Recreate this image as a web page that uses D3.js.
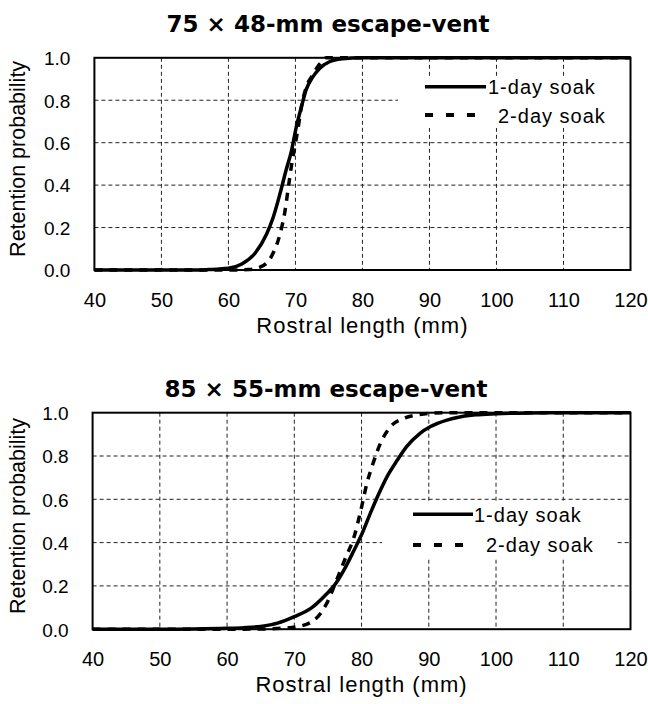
<!DOCTYPE html>
<html>
<head>
<meta charset="utf-8">
<script src="https://cdn.jsdelivr.net/npm/d3@7"></script>
<style>
  html, body { margin: 0; padding: 0; background: #fff; }
  svg { display: block; }
  text { font-family: "Liberation Sans", Arial, sans-serif; fill: #000; }
</style>
</head>
<body>
<svg id="chart" width="648" height="704"></svg>
<script>
// ---------- data ----------
const xTicks = [40, 50, 60, 70, 80, 90, 100, 110, 120];
const yTicks = [0.0, 0.2, 0.4, 0.6, 0.8, 1.0];
const seriesNames = ["1-day soak", "2-day soak"];
const panelTitles = ["75 \u00d7 48-mm escape-vent", "85 \u00d7 55-mm escape-vent"];
const xAxisTitle = "Rostral length (mm)";
const yAxisTitle = "Retention probability";

// 75x48 vent, 1-day soak
const lenA1 = [40, 50, 55, 57, 60, 62, 64, 65.7, 66.7, 67.7, 68.6, 69.4, 70.1, 70.9, 71.6, 72.6, 73.6, 75, 77, 80, 90, 100, 110, 120];
const retA1 = [0, 0, 0, 0.002, 0.008, 0.028, 0.08, 0.17, 0.25, 0.36, 0.47, 0.56, 0.67, 0.77, 0.85, 0.91, 0.95, 0.98, 0.995, 1, 1, 1, 1, 1];
// 75x48 vent, 2-day soak
const lenA2 = [40, 60, 63, 64.7, 66.4, 67.7, 68.4, 68.9, 69.4, 69.9, 70.4, 70.9, 71.6, 72.6, 73.6, 74.6, 80, 120];
const retA2 = [0, 0, 0.002, 0.013, 0.063, 0.17, 0.27, 0.38, 0.49, 0.58, 0.67, 0.77, 0.86, 0.92, 0.97, 1.0, 1, 1];
// 85x55 vent, 1-day soak
const lenB1 = [40, 50, 55, 60, 62.5, 65, 67.5, 70, 72.5, 74.9, 75.9, 77.4, 78.9, 80.1, 81.3, 82.6, 83.8, 85.3, 86.7, 88.7, 90.2, 92.7, 94.6, 97, 100, 105, 110, 120];
const retB1 = [0, 0, 0.001, 0.004, 0.007, 0.013, 0.028, 0.058, 0.097, 0.166, 0.2, 0.274, 0.366, 0.443, 0.535, 0.628, 0.705, 0.78, 0.843, 0.905, 0.935, 0.966, 0.98, 0.99, 0.995, 0.999, 1, 1];
// 85x55 vent, 2-day soak
const lenB2 = [40, 60, 65, 68, 70.5, 73, 74.7, 76.2, 77.6, 78.9, 79.9, 80.8, 81.8, 82.8, 84.3, 86.3, 88.2, 92.2, 120];
const retB2 = [0, 0, 0.001, 0.004, 0.012, 0.043, 0.112, 0.22, 0.328, 0.428, 0.55, 0.674, 0.774, 0.858, 0.935, 0.974, 0.989, 1.0, 1.0];

// ---------- layout ----------
const svg = d3.select("#chart");

const panels = [
  {
    title: panelTitles[0], titleX: 328, titleY: 31.5,
    left: 94.4, right: 630.5, top: 57.8, bottom: 270,
    series: [[lenA1, retA1], [lenA2, retA2]],
    legend: { box: [398, 77, 630, 128], lineX: [425, 486], rows: [86.7, 115], textX: [488, 498], textY: [93.5, 122.5] }
  },
  {
    title: panelTitles[1], titleX: 326, titleY: 396.5,
    left: 92.6, right: 630.5, top: 412.7, bottom: 629.2,
    series: [[lenB1, retB1], [lenB2, retB2]],
    legend: { box: [382, 501, 615, 559], lineX: [413, 473], rows: [514.3, 545], textX: [474, 486], textY: [521.5, 552] }
  }
];

panels.forEach(p => {
  const x = d3.scaleLinear().domain([40, 120]).range([p.left, p.right]);
  const y = d3.scaleLinear().domain([0, 1]).range([p.bottom, p.top]);
  const g = svg.append("g");

  // gridlines
  g.selectAll("line.vg").data(xTicks.slice(1, -1)).enter().append("line")
    .attr("x1", d => x(d)).attr("x2", d => x(d))
    .attr("y1", p.top).attr("y2", p.bottom)
    .attr("stroke", "#222").attr("stroke-width", 1).attr("stroke-dasharray", "4,3");
  g.selectAll("line.hg").data(yTicks.slice(1, -1)).enter().append("line")
    .attr("x1", p.left).attr("x2", p.right)
    .attr("y1", d => y(d)).attr("y2", d => y(d))
    .attr("stroke", "#222").attr("stroke-width", 1).attr("stroke-dasharray", "4,3");

  // legend background (covers gridlines)
  const b = p.legend.box;
  g.append("rect").attr("x", b[0]).attr("y", b[1]).attr("width", b[2] - b[0]).attr("height", b[3] - b[1])
    .attr("fill", "#fff");

  // curves
  const line = d3.line().x(d => x(d[0])).y(d => y(d[1])).curve(d3.curveMonotoneX);
  p.series.forEach((s, i) => {
    const pts = s[0].map((v, k) => [v, s[1][k]]);
    g.append("path").datum(pts).attr("d", line)
      .attr("fill", "none").attr("stroke", "#000").attr("stroke-width", 3.5)
      .attr("stroke-linejoin", "round")
      .attr("stroke-dasharray", i === 1 ? "8,7" : null);
  });

  // frame
  g.append("rect").attr("x", p.left).attr("y", p.top)
    .attr("width", p.right - p.left).attr("height", p.bottom - p.top)
    .attr("fill", "none").attr("stroke", "#000").attr("stroke-width", 2);

  // x axis labels
  const xa = g.append("g").attr("transform", `translate(0,${p.bottom})`)
    .call(d3.axisBottom(x).tickValues(xTicks).tickSize(0).tickFormat(d3.format("d")));
  xa.select(".domain").remove();
  xa.selectAll("text").attr("y", 37).attr("dy", null)
    .style("font-family", '"Liberation Sans", Arial, sans-serif').style("font-size", "20px").attr("fill", "#000");

  // y axis labels
  const ya = g.append("g").attr("transform", `translate(${p.left},0)`)
    .call(d3.axisLeft(y).tickValues(yTicks).tickSize(0).tickFormat(d3.format(".1f")));
  ya.select(".domain").remove();
  ya.selectAll("text").attr("x", -24).attr("dy", "0.36em")
    .style("font-family", '"Liberation Sans", Arial, sans-serif').style("font-size", "19px").attr("fill", "#000");

  // axis titles
  g.append("text").attr("x", (p.left + p.right) / 2).attr("y", p.bottom + 63)
    .attr("text-anchor", "middle").style("font-size", "22px").style("letter-spacing", "1px").text(xAxisTitle);
  g.append("text")
    .attr("transform", `translate(25,${(p.top + p.bottom) / 2 - 5}) rotate(-90)`)
    .attr("text-anchor", "middle").style("font-size", "21.5px").text(yAxisTitle);

  // panel title
  g.append("text").attr("x", p.titleX).attr("y", p.titleY).attr("text-anchor", "middle")
    .style("font-family", '"DejaVu Sans", sans-serif').style("font-weight", "bold").style("font-size", "23px")
    .text(p.title);

  // legend
  const L = p.legend;
  seriesNames.forEach((name, i) => {
    g.append("line").attr("x1", L.lineX[0]).attr("x2", i === 0 ? L.lineX[1] : L.lineX[1] - 10)
      .attr("y1", L.rows[i]).attr("y2", L.rows[i])
      .attr("stroke", "#000").attr("stroke-width", i === 0 ? 3.5 : 4)
      .attr("stroke-dasharray", i === 1 ? "8,13" : null);
    g.append("text").attr("x", L.textX[i]).attr("y", L.textY[i])
      .style("font-size", "20px").style("letter-spacing", "1px").text(name);
  });
});
</script>
</body>
</html>
